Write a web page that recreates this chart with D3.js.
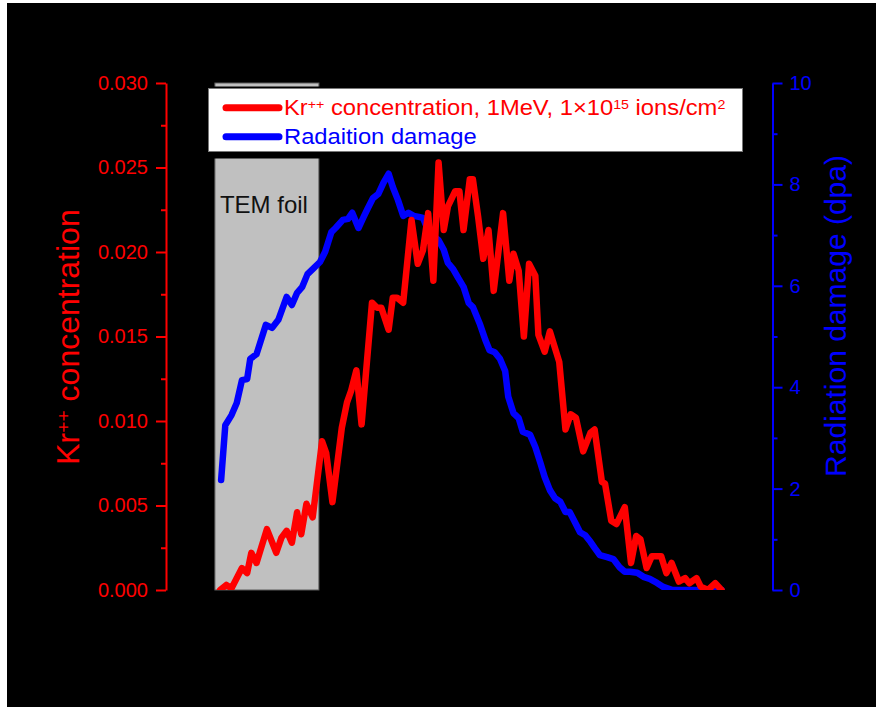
<!DOCTYPE html>
<html>
<head>
<meta charset="utf-8">
<script src="https://cdn.jsdelivr.net/npm/d3@7"></script>
<style>
  html, body { margin: 0; padding: 0; background: #fff; }
  svg { display: block; font-family: "Liberation Sans", Arial, sans-serif; }
</style>
</head>
<body>
<div id="chart"></div>
<script>
// Kr++ implantation profile vs radiation damage (depth in nm, no x axis shown)

// Kr++ concentration (left axis)
var redDepth = [5,11,16,26,31,35,40,50,59,64,69,74,79,83,88,94,103,107,113,122,
  127,131,136,141,151,156,160,167,171,175,181,189,195,200,205,210,215,220,224,231,
  235,239,245,248,253,258,263,268,277,283,287,292,297,302,308,311,317,322,331,337,
  342,347,354,361,365,372,375,381,386,394,400,405,409,415,420,429,434,439,446,452,
  456,463,467,474,481,487];
var redConc = [0,0.0003,0.0001,0.0013,0.0010,0.0022,0.0016,0.0036,0.0022,0.0031,
  0.0035,0.0028,0.0046,0.0033,0.0051,0.0043,0.0088,0.0081,0.0052,0.0096,
  0.0111,0.0118,0.0130,0.0098,0.0170,0.0167,0.0167,0.0154,0.0173,0.0173,
  0.0170,0.0219,0.0193,0.0201,0.0223,0.0183,0.0253,0.0213,0.0227,0.0236,
  0.0236,0.0213,0.0243,0.0243,0.0221,0.0196,0.0213,0.0177,0.0223,0.0183,
  0.0199,0.0189,0.0150,0.0193,0.0186,0.0151,0.0141,0.0153,0.0135,0.0095,
  0.0104,0.0102,0.0082,0.0093,0.0095,0.0064,0.0063,0.0041,0.0039,0.0049,
  0.0016,0.0032,0.0030,0.0013,0.0020,0.0020,0.0010,0.0016,0.0005,0.0007,
  0.0004,0.0007,0.0002,0,0.0004,0];

// radiation damage (right axis)
var dmgDepth = [6,10,16,21,26,31,34,40,49,55,61,69,74,79,84,89,95,101,106,112,
  116,123,128,132,138,143,147,152,157,162,167,171,176,181,186,191,196,200,204,208,
  215,220,224,229,234,239,244,248,255,260,264,269,274,279,282,287,292,296,303,308,
  313,317,322,327,332,337,341,346,351,356,361,365,370,377,383,389,394,399,406,412,
  418,425,431,440,454,466,479,487];
var dmgDpa = [2.17,3.25,3.45,3.69,4.14,4.16,4.56,4.65,5.23,5.17,
  5.33,5.78,5.62,5.86,5.98,6.23,6.35,6.47,6.67,7.06,
  7.14,7.30,7.32,7.44,7.14,7.36,7.53,7.73,7.81,8.03,
  8.21,7.95,7.69,7.38,7.44,7.38,7.36,7.34,7.14,7.02,
  6.90,6.71,6.45,6.33,6.15,5.98,5.66,5.58,5.23,4.93,
  4.73,4.69,4.56,4.32,3.81,3.49,3.39,3.12,3.06,2.82,
  2.50,2.23,1.97,1.81,1.74,1.54,1.54,1.34,1.14,1.08,
  0.95,0.83,0.69,0.65,0.61,0.45,0.36,0.36,0.34,0.26,
  0.22,0.14,0.06,0,0,0,0,0];

// TEM foil region
var foilRange = [0, 100];

// ticks
var concTicks = [0, 0.005, 0.010, 0.015, 0.020, 0.025, 0.030];
var concMinor = [0.0025, 0.0075, 0.0125, 0.0175, 0.0225, 0.0275];
var dpaTicks = [0, 2, 4, 6, 8, 10];
var dpaMinor = [1, 3, 5, 7, 9];

var width = 885, height = 711;
var plotL = 166, plotR = 772.5, plotT = 83, plotB = 590;

var svg = d3.select("#chart").append("svg")
    .attr("width", width)
    .attr("height", height);

// black page
svg.append("rect")
    .attr("x", 7).attr("y", 3)
    .attr("width", 869).attr("height", 704)
    .attr("fill", "#000");

var x = d3.scaleLinear().domain([-47, 536]).range([plotL, plotR]);
var yL = d3.scaleLinear().domain([0, 0.03]).range([plotB, plotT]);
var yR = d3.scaleLinear().domain([0, 10]).range([plotB, plotT]);

// foil box
svg.append("rect")
    .attr("x", x(foilRange[0]))
    .attr("y", plotT)
    .attr("width", x(foilRange[1]) - x(foilRange[0]))
    .attr("height", plotB - plotT)
    .attr("fill", "#c0c0c0")
    .attr("stroke", "#5a5a5a")
    .attr("stroke-width", 1);

svg.append("text")
    .attr("x", x(foilRange[0]) + 5)
    .attr("y", 212.5)
    .attr("font-size", 24)
    .attr("fill", "#111")
    .text("TEM foil");

// curves
svg.append("clipPath").attr("id", "plotclip")
  .append("rect")
    .attr("x", plotL).attr("y", plotT)
    .attr("width", plotR - plotL).attr("height", plotB - plotT);

var redLine = d3.line()
    .x(function(d, i) { return x(redDepth[i]); })
    .y(function(d) { return yL(d); });
var blueLine = d3.line()
    .x(function(d, i) { return x(dmgDepth[i]); })
    .y(function(d) { return yR(d); });

var curves = svg.append("g").attr("clip-path", "url(#plotclip)");
curves.append("path")
    .attr("d", blueLine(dmgDpa))
    .attr("fill", "none")
    .attr("stroke", "#0000ff")
    .attr("stroke-width", 6.5)
    .attr("stroke-linejoin", "round")
    .attr("stroke-linecap", "round");
curves.append("path")
    .attr("d", redLine(redConc))
    .attr("fill", "none")
    .attr("stroke", "#ff0000")
    .attr("stroke-width", 6.5)
    .attr("stroke-linejoin", "round")
    .attr("stroke-linecap", "round");

// axes
function styleAxis(g, color) {
    g.attr("font-family", null).attr("font-size", null);
    g.selectAll("path, line").attr("stroke", color).attr("stroke-width", 2);
    g.selectAll("text").attr("fill", color).attr("font-size", 20);
}

var gL = svg.append("g").attr("transform", "translate(" + plotL + ",0)")
    .call(d3.axisLeft(yL).tickValues(concTicks).tickFormat(d3.format(".3f"))
        .tickSize(10).tickSizeOuter(0).tickPadding(8));
styleAxis(gL, "#ff0000");
var gLm = svg.append("g").attr("transform", "translate(" + plotL + ",0)")
    .call(d3.axisLeft(yL).tickValues(concMinor).tickFormat("").tickSize(5).tickSizeOuter(0));
gLm.select(".domain").remove();
styleAxis(gLm, "#ff0000");

var gR = svg.append("g").attr("transform", "translate(" + plotR + ",0)")
    .call(d3.axisRight(yR).tickValues(dpaTicks).tickFormat(d3.format("d"))
        .tickSize(10).tickSizeOuter(0).tickPadding(7));
styleAxis(gR, "#0000ff");
var gRm = svg.append("g").attr("transform", "translate(" + plotR + ",0)")
    .call(d3.axisRight(yR).tickValues(dpaMinor).tickFormat("").tickSize(5).tickSizeOuter(0));
gRm.select(".domain").remove();
styleAxis(gRm, "#0000ff");

// axis titles
var lt = svg.append("text")
    .attr("transform", "translate(79,337) rotate(-90)")
    .attr("text-anchor", "middle")
    .attr("font-size", 32)
    .attr("fill", "#ff0000");
lt.append("tspan").text("Kr");
lt.append("tspan").attr("dy", "-0.45em").attr("font-size", "0.6em").text("++");
lt.append("tspan").attr("dy", "0.27em").text(" concentration");

svg.append("text")
    .attr("transform", "translate(846,316) rotate(-90)")
    .attr("text-anchor", "middle")
    .attr("font-size", 30)
    .attr("fill", "#0000ff")
    .text("Radiation damage (dpa)");

// legend (shadow frame, then box)
svg.append("rect")
    .attr("x", 205).attr("y", 86.5)
    .attr("width", 546).attr("height", 72)
    .attr("fill", "#000");
svg.append("rect")
    .attr("x", 208.5).attr("y", 88.5)
    .attr("width", 534).attr("height", 63)
    .attr("fill", "#fff")
    .attr("stroke", "#777")
    .attr("stroke-width", 1);

var legendItems = [
    { color: "#ff0000", y: 107.7 },
    { color: "#0000ff", y: 136.7 }
];
svg.selectAll(".legline").data(legendItems).enter().append("line")
    .attr("x1", 226).attr("x2", 279)
    .attr("y1", function(d) { return d.y; })
    .attr("y2", function(d) { return d.y; })
    .attr("stroke", function(d) { return d.color; })
    .attr("stroke-width", 7)
    .attr("stroke-linecap", "round");

// legend texts are slightly wider than plain Arial in the original
var legText = svg.append("g").attr("transform", "translate(284,0) scale(1.08,1)");
var t1 = legText.append("text")
    .attr("x", 0).attr("y", 115)
    .attr("font-size", 22)
    .attr("fill", "#ff0000");
t1.append("tspan").text("Kr");
t1.append("tspan").attr("dy", "-0.45em").attr("font-size", "0.6em").text("++");
t1.append("tspan").attr("dy", "0.27em").text(" concentration, 1MeV, 1\u00d710");
t1.append("tspan").attr("dy", "-0.45em").attr("font-size", "0.6em").text("15");
t1.append("tspan").attr("dy", "0.27em").text(" ions/cm");
t1.append("tspan").attr("dy", "-0.45em").attr("font-size", "0.6em").text("2");

legText.append("text")
    .attr("x", 0).attr("y", 144.3)
    .attr("font-size", 22)
    .attr("fill", "#0000ff")
    .text("Radaition damage");
</script>
</body>
</html>
